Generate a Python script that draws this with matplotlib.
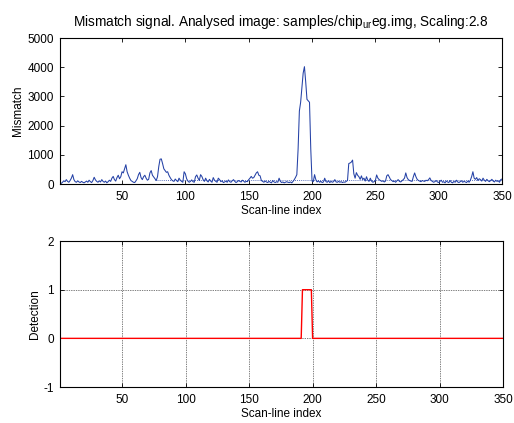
import matplotlib
matplotlib.use("Agg")
import matplotlib.pyplot as plt

plt.rcParams["font.family"] = ["Liberation Sans", "DejaVu Sans"]
plt.rcParams["mathtext.fontset"] = "custom"
plt.rcParams["mathtext.rm"] = "Liberation Sans"
plt.rcParams["mathtext.it"] = "Liberation Sans"
plt.rcParams["axes.unicode_minus"] = False

LINE_BLUE = "#2441a6"
LINE_RED = "#ff0000"

# mismatch value per scan line (index 1..350)
mismatch = [
    40, 20, 60, 110, 80, 150, 90, 60, 120, 200,
    320, 150, 80, 60, 110, 70, 50, 90, 60, 40,
    70, 100, 60, 130, 80, 50, 120, 230, 140, 90,
    60, 110, 70, 150, 90, 60, 100, 40, 80, 130,
    90, 200, 260, 150, 100, 220, 300, 180, 250, 420,
    380, 520, 660, 420, 300, 200, 120, 90, 60, 50,
    110, 180, 320, 400, 220, 150, 250, 300, 200, 130,
    160, 380, 460, 300, 240, 180, 120, 250, 600, 850,
    860, 700, 520, 460, 400, 420, 300, 220, 150, 110,
    90, 170, 120, 80, 200, 130, 90, 60, 420, 350,
    180, 100, 60, 90, 140, 80, 60, 250, 310, 200,
    120, 320, 260, 150, 90, 200, 110, 70, 160, 100,
    60, 220, 130, 90, 60, 200, 150, 80, 110, 50,
    70, 100, 60, 140, 80, 60, 110, 150, 90, 50,
    80, 120, 90, 70, 130, 100, 60, 90, 80, 150,
    200, 260, 200, 220, 300, 380, 420, 300, 280, 120,
    90, 60, 100, 70, 50, 90, 60, 40, 120, 70,
    50, 80, 60, 200, 90, 50, 70, 40, 60, 80,
    60, 50, 70, 40, 90, 150, 230, 320, 1200, 2500,
    2800, 3300, 3800, 4020, 3500, 2900, 2850, 2800, 1200, 100,
    80, 320, 150, 70, 110, 60, 90, 50, 70, 200,
    80, 60, 110, 50, 90, 60, 80, 150, 70, 60,
    90, 60, 80, 50, 70, 60, 90, 120, 700, 720,
    750, 820, 350, 200, 390, 300, 250, 160, 280, 150,
    200, 100, 250, 130, 90, 200, 100, 60, 80, 120,
    310, 200, 150, 120, 90, 110, 70, 100, 280, 320,
    240, 150, 120, 80, 100, 60, 110, 150, 90, 70,
    110, 150, 200, 380, 220, 150, 120, 100, 90, 250,
    380, 250, 160, 120, 100, 80, 120, 100, 90, 130,
    110, 150, 210, 120, 90, 60, 80, 120, 70, 50,
    90, 130, 60, 80, 40, 100, 70, 50, 120, 60,
    40, 90, 60, 130, 70, 50, 80, 110, 60, 90,
    70, 50, 100, 60, 130, 250, 420, 200, 160, 220,
    120, 180, 150, 100, 200, 130, 90, 160, 110, 80,
    120, 160, 100, 70, 130, 90, 110, 60, 150, 170,
]
scan_idx = list(range(1, len(mismatch) + 1))

# binary detection output
detection = [0] * 191 + [1] * 8 + [0] * 151

# dotted threshold level, drawn from scan line 76 on
threshold_start = 76
threshold_level = 150

x_ticks = [50, 100, 150, 200, 250, 300, 350]
mismatch_ticks = [0, 1000, 2000, 3000, 4000, 5000]
detection_ticks = [-1, 0, 1, 2]

fig = plt.figure(figsize=(5.14, 4.23), dpi=100)
ax_top = fig.add_axes([0.1167, 0.565, 0.860, 0.345])
ax_bot = fig.add_axes([0.1167, 0.0851, 0.862, 0.345])

for ax in (ax_top, ax_bot):
    ax.tick_params(direction="in", top=True, right=True, labelsize=8.5,
                   length=3, width=0.6)
    ax.tick_params(axis="y", pad=4.5)
    ax.tick_params(axis="x", pad=5)
    for sp in ax.spines.values():
        sp.set_linewidth(0.8)
    ax.set_xlim(1, 350)
    ax.set_xticks(x_ticks)
    ax.set_xlabel("Scan-line index", fontsize=8.5, labelpad=1.5)

# top: mismatch signal
ax_top.plot(scan_idx, mismatch, color=LINE_BLUE, lw=0.75)
ax_top.hlines(threshold_level, threshold_start, scan_idx[-1],
              colors=LINE_BLUE, linestyles=(0, (1, 1.5)), lw=0.6)
ax_top.set_ylim(0, 5000)
ax_top.set_yticks(mismatch_ticks)
ax_top.set_ylabel("Mismatch", fontsize=8.5, labelpad=2)
ax_top.set_title("Mismatch signal. Analysed image: samples/chip$_{\\mathrm{ur}}$eg.img, Scaling:2.8",
                 fontsize=9.8, pad=9)

# bottom: detection
ax_bot.plot(scan_idx, detection, color=LINE_RED, lw=1.0)
ax_bot.set_ylim(-1, 2)
ax_bot.set_yticks(detection_ticks)
ax_bot.set_ylabel("Detection", fontsize=8.5, labelpad=1.5)
ax_bot.grid(True, color="black", linestyle=(0, (1, 1.5)), lw=0.5)
ax_bot.set_axisbelow(True)

fig.savefig("out.png", dpi=100, facecolor="white")
